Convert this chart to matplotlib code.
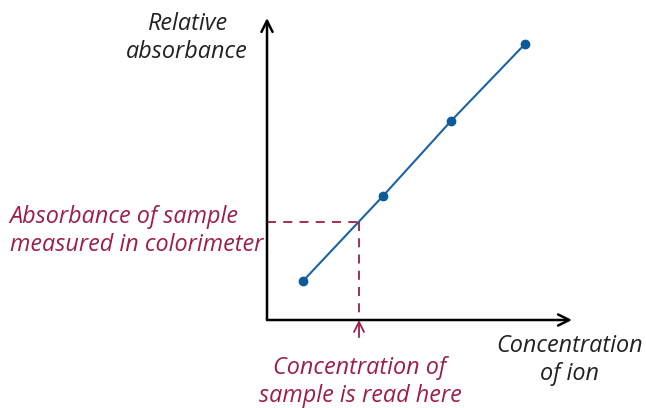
import matplotlib.pyplot as plt

# Calibration standards: concentration vs relative absorbance
concentration = [0.09, 0.29, 0.46, 0.645]
absorbance = [0.0975, 0.31, 0.4975, 0.69]

# Unknown sample reading
sample_absorbance = 0.245
sample_concentration = 0.23

line_blue = '#1a64a6'
dot_blue = '#0b5a99'
note_red = '#9c1f4b'

W, H = 646, 408
fig = plt.figure(figsize=(W / 100, H / 100), dpi=100)
ax = fig.add_axes([267 / W, 88 / H, 305 / W, 302 / H])
ax.set_xlim(0, 0.7625)
ax.set_ylim(0, 0.755)
ax.axis('off')

# Axes drawn as arrows
ax.annotate('', xy=(1, 0), xytext=(0, 0), xycoords='axes fraction',
            arrowprops=dict(arrowstyle='->', lw=1.8, color='black',
                            mutation_scale=20, shrinkA=0, shrinkB=0))
ax.annotate('', xy=(0, 1), xytext=(0, 0), xycoords='axes fraction',
            arrowprops=dict(arrowstyle='->', lw=1.8, color='black',
                            mutation_scale=20, shrinkA=0, shrinkB=0))

# Calibration line
ax.plot(concentration, absorbance, color=line_blue, lw=1.5,
        marker='o', markersize=6, markerfacecolor=dot_blue,
        markeredgecolor=dot_blue, clip_on=False)

# Reading the sample off the line
ax.plot([0, sample_concentration], [sample_absorbance, sample_absorbance],
        color=note_red, lw=1.3, dashes=(5, 4))
ax.plot([sample_concentration, sample_concentration], [sample_absorbance, 0],
        color=note_red, lw=1.3, dashes=(5, 4))
ax.annotate('', xy=(sample_concentration, 0), xytext=(sample_concentration, -0.043),
            arrowprops=dict(arrowstyle='->', lw=1.3, color=note_red,
                            mutation_scale=18, shrinkA=0, shrinkB=0),
            annotation_clip=False)

font = dict(family='Open Sans', style='italic', fontsize=16.8)
fig.text(187 / W, 1 - 38 / H, 'Relative\nabsorbance', ha='center', va='center',
         linespacing=1.2, color='#222222', **font)
fig.text(263 / W, 1 - 231 / H, 'Absorbance of sample\nmeasured in colorimeter',
         ha='right', va='center', multialignment='left', linespacing=1.2,
         color=note_red, **font)
fig.text(360 / W, 1 - 382 / H, 'Concentration of\nsample is read here',
         ha='center', va='center', linespacing=1.2, color=note_red, **font)
fig.text(570 / W, 1 - 360 / H, 'Concentration\nof ion', ha='center', va='center',
         linespacing=1.2, color='#222222', **font)

fig.savefig('out.png', dpi=100)
